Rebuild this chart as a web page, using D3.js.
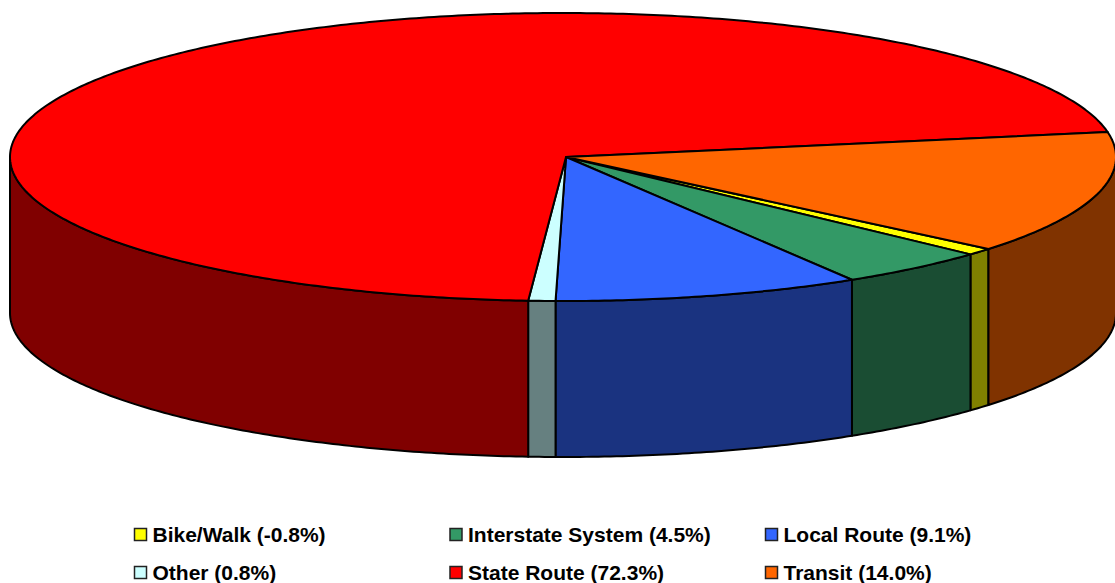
<!DOCTYPE html>
<html>
<head>
<meta charset="utf-8">
<script src="https://cdnjs.cloudflare.com/ajax/libs/d3/7.8.5/d3.min.js"></script>
<style>
    html, body { margin: 0; padding: 0; background: #fff; overflow: hidden; }
    svg { display: block; }
    .legend text { font: bold 21px "Liberation Sans", Arial, sans-serif; fill: #000; }
</style>
</head>
<body>
<div id="chart"></div>
<script>
(function() {
    'use strict';

    // values as printed in the legend, drawn by magnitude
    var categories = ['Bike/Walk', 'Interstate System', 'Local Route', 'Other', 'State Route', 'Transit'];
    var shares = [-0.8, 4.5, 9.1, 0.8, 72.3, 14.0];
    var topColors = ['#ffff00', '#339966', '#3366ff', '#ccffff', '#ff0000', '#ff6600'];
    var sideColors = ['#808000', '#1a4d33', '#1a3380', '#668080', '#800000', '#803300'];

    var width = 1115, height = 583;
    var cx = 563, cy = 157, rx = 553, ry = 144, depth = 156;
    var hubX = 566;
    var startDeg = 129.7;

    var svg = d3.select('#chart').append('svg')
        .attr('width', width)
        .attr('height', height);

    var pie = d3.pie()
        .sort(null)
        .value(function(d) { return Math.abs(d); })
        .startAngle(startDeg * Math.PI / 180)
        .endAngle((startDeg + 360) * Math.PI / 180);

    var slices = pie(shares);

    var xUnit = d3.scaleLinear().domain([-1, 1]).range([cx - rx, cx + rx]);
    var yUnit = d3.scaleLinear().domain([-1, 1]).range([cy - ry, cy + ry]);
    var line = d3.line();

    // point on the rim for a clockwise angle measured from 12 o'clock
    var rim = function(a, drop) {
        return [xUnit(Math.sin(a)), yUnit(-Math.cos(a)) + (drop || 0)];
    };

    var samples = function(a0, a1) {
        var n = Math.max(2, Math.ceil((a1 - a0) * 90));
        return d3.range(n + 1).map(function(i) { return a0 + (a1 - a0) * i / n; });
    };

    // Draw the walls, only the front half (90deg..270deg) can be seen
    var wallFrom = Math.PI / 2, wallTo = 3 * Math.PI / 2;
    var wallRanges = [];
    slices.forEach(function(s, i) {
        [0, 2 * Math.PI].forEach(function(turn) {
            var a0 = Math.max(s.startAngle - turn, wallFrom);
            var a1 = Math.min(s.endAngle - turn, wallTo);
            if (a1 > a0) wallRanges.push({a0: a0, a1: a1, i: i});
        });
    });

    svg.append('g').selectAll('path')
        .data(wallRanges)
        .enter()
        .append('path')
        .attr('d', function(d) {
            var angles = samples(d.a0, d.a1);
            var upper = angles.map(function(a) { return rim(a); });
            var lower = angles.slice().reverse().map(function(a) { return rim(a, depth); });
            return line(upper.concat(lower)) + 'Z';
        })
        .attr('fill', function(d) { return sideColors[d.i]; })
        .attr('stroke', '#000')
        .attr('stroke-width', 2)
        .attr('stroke-linejoin', 'round');

    // Draw the top face
    svg.append('g').selectAll('path')
        .data(slices)
        .enter()
        .append('path')
        .attr('d', function(d) {
            var pts = samples(d.startAngle, d.endAngle).map(function(a) { return rim(a); });
            return line([[hubX, cy]].concat(pts)) + 'Z';
        })
        .attr('fill', function(d, i) { return topColors[i]; })
        .attr('stroke', '#000')
        .attr('stroke-width', 2)
        .attr('stroke-linejoin', 'round');

    // Legend, three columns by two rows
    var legendX = d3.scalePoint().domain([0, 1, 2]).range([134, 765]);
    var legendY = d3.scalePoint().domain([0, 1]).range([528, 566]);

    var items = svg.append('g').attr('class', 'legend').selectAll('g')
        .data(categories)
        .enter()
        .append('g')
        .attr('transform', function(d, i) {
            return 'translate(' + legendX(i % 3) + ',' + legendY(Math.floor(i / 3)) + ')';
        });

    items.append('rect')
        .attr('x', 0.5)
        .attr('y', 0.5)
        .attr('width', 12)
        .attr('height', 12)
        .attr('fill', function(d, i) { return topColors[i]; })
        .attr('stroke', '#222')
        .attr('stroke-width', 1.5);

    items.append('text')
        .attr('x', 18.5)
        .attr('y', 13.5)
        .text(function(d, i) {
            return d + ' (' + shares[i].toFixed(1) + '%)';
        });
})();
</script>
</body>
</html>
